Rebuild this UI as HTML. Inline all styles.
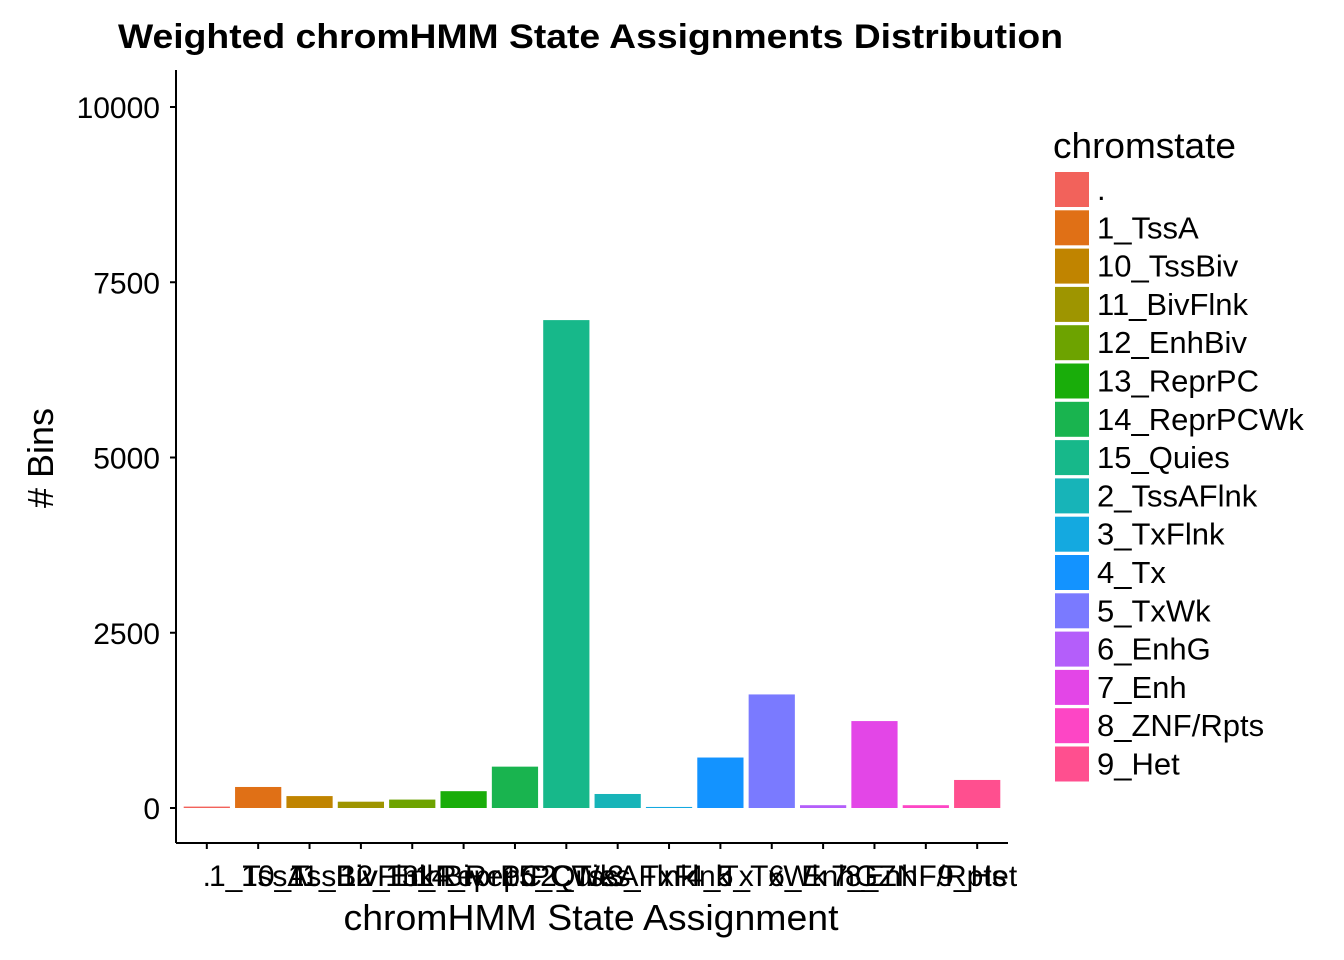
<!DOCTYPE html>
<html><head><meta charset="utf-8"><style>
body{margin:0;background:#fff;}
svg{display:block;font-family:"Liberation Sans",Arial,sans-serif;}
</style></head><body>
<svg id="chart" width="1344" height="960">
<text x="118" y="48" font-size="34" font-weight="bold" textLength="945" lengthAdjust="spacingAndGlyphs">Weighted chromHMM State Assignments Distribution</text>
<g id="bars"></g>
<g id="yaxis"></g>
<g id="xaxis"></g>
<text x="591" y="930" font-size="36" text-anchor="middle" textLength="495" lengthAdjust="spacingAndGlyphs">chromHMM State Assignment</text>
<text transform="translate(53,458) rotate(-90)" font-size="36" text-anchor="middle"># Bins</text>
<g id="legend">
<text x="1053" y="158" font-size="36" textLength="183" lengthAdjust="spacingAndGlyphs">chromstate</text>
</g>
</svg>
<script>
const categories=[".","1_TssA","10_TssBiv","11_BivFlnk","12_EnhBiv","13_ReprPC","14_ReprPCWk","15_Quies","2_TssAFlnk","3_TxFlnk","4_Tx","5_TxWk","6_EnhG","7_Enh","8_ZNF/Rpts","9_Het"];
const values=[20,300,170,90,120,240,590,6960,200,15,720,1620,40,1240,40,400];
const yTicks=[0,2500,5000,7500,10000];
const colors=["#F2625B","#E07016","#C08400","#9E9500","#6DA300","#19AD0A","#19B44F","#17B88A","#17B4B8","#14A9E0","#1393FF","#7A7AFF","#B45EFA","#E346E7","#FD46C5","#FF4F8F"];
const NS="http://www.w3.org/2000/svg";
const y0=808,pxPer=(808-107)/10000,x0=176,x1=1008;
const band=(x1-x0)/(categories.length-1+1.2);
const y=v=>y0-v*pxPer;
const xc=i=>x0+band*(0.6+i);
function mk(t,a,p){const e=document.createElementNS(NS,t);for(const k in a)e.setAttribute(k,a[k]);p.appendChild(e);return e;}
const bars=document.getElementById('bars');
categories.forEach((c,i)=>{
 const bw=band*0.9;
 const r=mk('rect',{x:xc(i)-bw/2,y:y(values[i]),width:bw,height:Math.max(values[i]*pxPer,0.5),fill:colors[i]},bars);
 
 
});
const ya=document.getElementById('yaxis');
mk('line',{x1:x0,y1:70,x2:x0,y2:843,stroke:'#000','stroke-width':2},ya);
yTicks.forEach(t=>{
 mk('line',{x1:x0-6,y1:y(t),x2:x0,y2:y(t),stroke:'#000','stroke-width':2},ya);
 const tx=mk('text',{x:x0-16,y:y(t)+11,'font-size':30,'text-anchor':'end',fill:'#000'},ya);
 tx.textContent=t;
 
 
});
const xa=document.getElementById('xaxis');
mk('line',{x1:x0,y1:843,x2:x1,y2:843,stroke:'#000','stroke-width':2},xa);
categories.forEach((c,i)=>{
 mk('line',{x1:xc(i),y1:843,x2:xc(i),y2:849,stroke:'#000','stroke-width':2},xa);
 const tx=mk('text',{x:xc(i),y:886,'font-size':30,'text-anchor':'middle',fill:'#000'},xa);
 tx.textContent=c;
 
 
});
const lg=document.getElementById('legend');
categories.forEach((c,i)=>{
 const yy=171+i*38.3;
 const r=mk('rect',{x:1055,y:yy+1,width:34,height:35,fill:colors[i]},lg);
 
 
 const tx=mk('text',{x:1097,y:yy+29,'font-size':31,fill:'#000'},lg);
 tx.textContent=c;
 
 
});
</script>
</body></html>
